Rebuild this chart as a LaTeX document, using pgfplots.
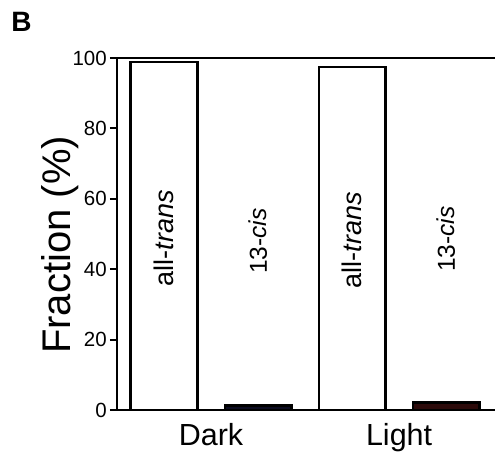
\documentclass[border=0pt]{standalone}
\usepackage{pgfplots}
\pgfplotsset{compat=1.18}
\usepackage{fontspec}
\setmainfont{Liberation Sans}
\definecolor{darkbar}{HTML}{0C0C20}
\definecolor{lightbar}{HTML}{2C0A0A}
\begin{document}
\begin{tikzpicture}
\useasboundingbox (-117pt,-46pt) rectangle (378pt,410pt);
\node[font=\fontsize{28}{28}\selectfont\bfseries] at (-95.5pt,388pt) {B};
\begin{axis}[
  at={(0pt,0pt)}, anchor=south west,
  scale only axis, width=378pt, height=352pt,
  xmin=0.5, xmax=4.52, ymin=0, ymax=100,
  clip=false,
  axis line style={draw=none},
  ytick={0,20,...,100},
  xtick={1.5,3.5}, xticklabels={Dark,Light},
  x tick style={draw=none},
  y tick style={line width=2pt, black},
  tick align=outside, major tick length=7pt,
  /pgf/number format/assume math mode=true,
  yticklabel style={font=\fontsize{20.5}{20.5}\selectfont, inner sep=0pt, xshift=-3pt},
  xticklabel style={font=\fontsize{30.5}{30.5}\selectfont, inner sep=0pt, yshift=-6pt},
  ylabel={Fraction (\%)},
  every axis y label/.style={at={(axis description cs:-0.151,0.469)}, anchor=center, rotate=90, font=\fontsize{40}{40}\selectfont},
]
\addplot[ybar, bar shift=0pt, bar width=0.71, fill=white, draw=black, line width=2.3pt]
  coordinates {(1,98.8) (3,97.4)};
\addplot[ybar, bar shift=0pt, bar width=0.71, fill=darkbar, draw=black, line width=2.3pt]
  coordinates {(2,1.3)};
\addplot[ybar, bar shift=0pt, bar width=0.71, fill=lightbar, draw=black, line width=2.3pt]
  coordinates {(4,2.1)};
\draw[line width=2pt] (rel axis cs:0,0) -- (rel axis cs:1,0);
\draw[line width=2pt] (rel axis cs:0,1) -- (rel axis cs:1,1);
\draw[line width=2pt] (rel axis cs:0,0) -- (rel axis cs:0,1);
\node[rotate=90, font=\fontsize{27}{27}\selectfont] at (axis cs:1,48.8) {all-\textit{trans}};
\node[rotate=90, font=\fontsize{27}{27}\selectfont] at (axis cs:3,48.2) {all-\textit{trans}};
\node[rotate=90, font=\fontsize{24.5}{24.5}\selectfont] at (axis cs:2,48) {13-\textit{cis}};
\node[rotate=90, font=\fontsize{24.5}{24.5}\selectfont] at (axis cs:4,48.5) {13-\textit{cis}};
\end{axis}
\end{tikzpicture}
\end{document}
